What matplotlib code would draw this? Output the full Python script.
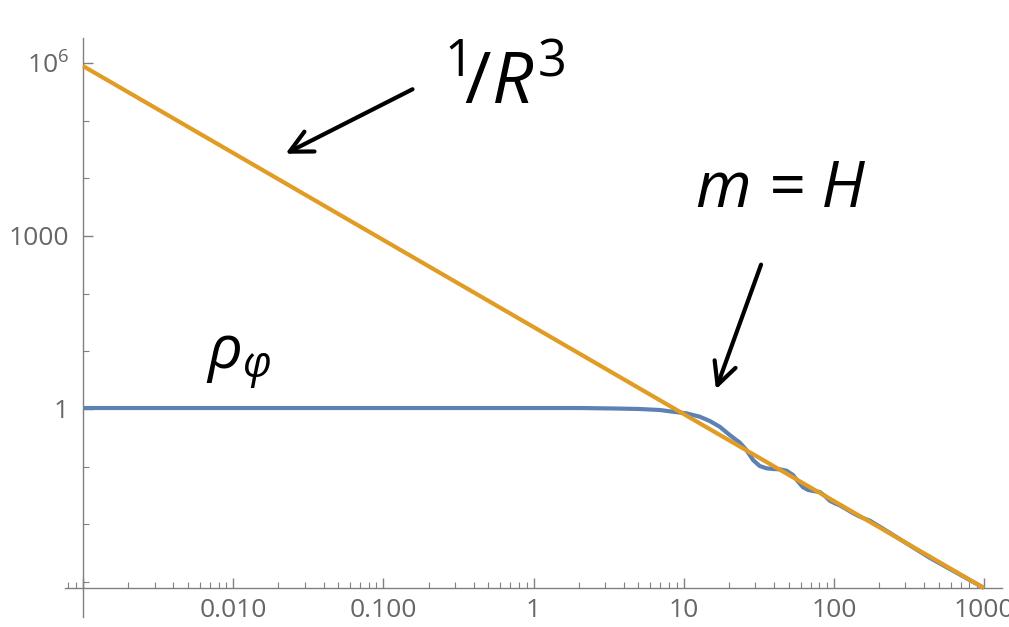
import numpy as np
import matplotlib.pyplot as plt
from matplotlib.ticker import FixedLocator, FixedFormatter, NullFormatter

plt.rcParams['font.family'] = ['Open Sans', 'DejaVu Sans']
plt.rcParams['mathtext.fontset'] = 'custom'
plt.rcParams['mathtext.rm'] = 'Open Sans'
plt.rcParams['mathtext.it'] = 'Open Sans:italic'

# Data
# energy density of the field (blue)
rho_x = [0.001, 0.01, 0.1, 1, 2, 3.5, 5.09, 6.92, 8.45, 10.42, 12.79, 14.91,
         17.38, 20.26, 23.63, 26.18, 28.97, 32.1, 35.6, 39.4, 43.65, 48.4,
         53.5, 57.8, 62.4, 67.4, 72.8, 80.7, 87.1, 94.0, 101.5, 109.6, 121.5,
         134.5, 149.1, 173.8, 202.6, 437, 1000]
rho_y = [1.04, 1.04, 1.04, 1.04, 1.04, 1.02, 1.0, 0.961, 0.898, 0.842, 0.736,
         0.620, 0.493, 0.354, 0.262, 0.1947, 0.1306, 0.1028, 0.0938, 0.0912,
         0.0901, 0.0852, 0.0718, 0.0550, 0.0440, 0.0395, 0.0379, 0.0364,
         0.0311, 0.0257, 0.0232, 0.0214, 0.0183, 0.0156, 0.0136, 0.0116,
         0.00912, 0.00262, 0.00079]

# 1/R^3 reference line (orange)
ref_x = [0.001, 1000]
ref_y = [8.8e5, 7.9e-4]

# tick labels
x_major = [1e-3, 1e-2, 1e-1, 1, 10, 100, 1000]
x_labels = ['', '0.010', '0.100', '1', '10', '100', '1000']
y_major = [1, 1e3, 1e6]
y_labels = ['1', '1000', '$10^6$']

blue = '#5E81B5'
orange = '#E19C24'
grey = '#808080'
label_grey = '#666666'

W, H = 1009, 627
fig = plt.figure(figsize=(W / 100, H / 100), dpi=100)
ax = fig.add_axes([65 / W, 10 / H, (1002 - 65) / W, (617 - 38) / H])

ax.plot(rho_x, rho_y, color=blue, lw=3.0, solid_capstyle='butt',
        solid_joinstyle='round', zorder=2)
ax.plot(ref_x, ref_y, color=orange, lw=3.0, solid_capstyle='butt', zorder=3)

ax.set_xscale('log')
ax.set_yscale('log')
ax.set_xlim(10 ** -3.12, 10 ** 3.12)
ax.set_ylim(10 ** -3.605, 10 ** 6.43)

# Mathematica-like crossing axes
for s in ['top', 'right']:
    ax.spines[s].set_visible(False)
ax.spines['left'].set_position(('data', 1e-3))
ax.spines['bottom'].set_position(('data', 7.9e-4))
for s in ['left', 'bottom']:
    ax.spines[s].set_color(grey)
    ax.spines[s].set_linewidth(1.0)

ax.xaxis.set_major_locator(FixedLocator(x_major))
ax.xaxis.set_major_formatter(FixedFormatter(x_labels))
x_minor = [m * 10.0 ** k for k in range(-4, 3) for m in range(2, 10)]
ax.xaxis.set_minor_locator(FixedLocator(x_minor))
ax.xaxis.set_minor_formatter(NullFormatter())

ax.yaxis.set_major_locator(FixedLocator(y_major))
ax.yaxis.set_major_formatter(FixedFormatter(y_labels))
y_minor = [10.0 ** k for k in range(-3, 7) if k not in (0, 3, 6)]
ax.yaxis.set_minor_locator(FixedLocator(y_minor))
ax.yaxis.set_minor_formatter(NullFormatter())

ax.tick_params(which='major', direction='in', length=7, width=1.0, color=grey,
               labelsize=19, labelcolor=label_grey)
ax.tick_params(which='minor', direction='in', length=4, width=0.8, color=grey)
ax.tick_params(axis='x', which='major', pad=7)
ax.tick_params(axis='y', which='major', pad=10)


def fx(px):
    return px / W


def fy(py):
    return 1 - py / H


# hand-written style annotations
fig.text(fx(505), fy(85), r'$^1\!/R^3$', fontsize=52, color='black',
         ha='center', va='center', style='italic')
ax.annotate('', xy=(fx(283), fy(155)), xycoords='figure fraction',
            xytext=(fx(415), fy(88)), textcoords='figure fraction',
            arrowprops=dict(arrowstyle='->', lw=3, color='black',
                            mutation_scale=40))

fig.text(fx(780), fy(190), 'm = H', fontsize=46, color='black',
         ha='center', va='center', style='italic')
ax.annotate('', xy=(fx(715), fy(392)), xycoords='figure fraction',
            xytext=(fx(762), fy(262)), textcoords='figure fraction',
            arrowprops=dict(arrowstyle='->', lw=3, color='black',
                            mutation_scale=40))

fig.text(fx(238), fy(362), r'$\rho_{\varphi}$', fontsize=44, color='black',
         ha='center', va='center')

fig.savefig('out.png', dpi=100)
